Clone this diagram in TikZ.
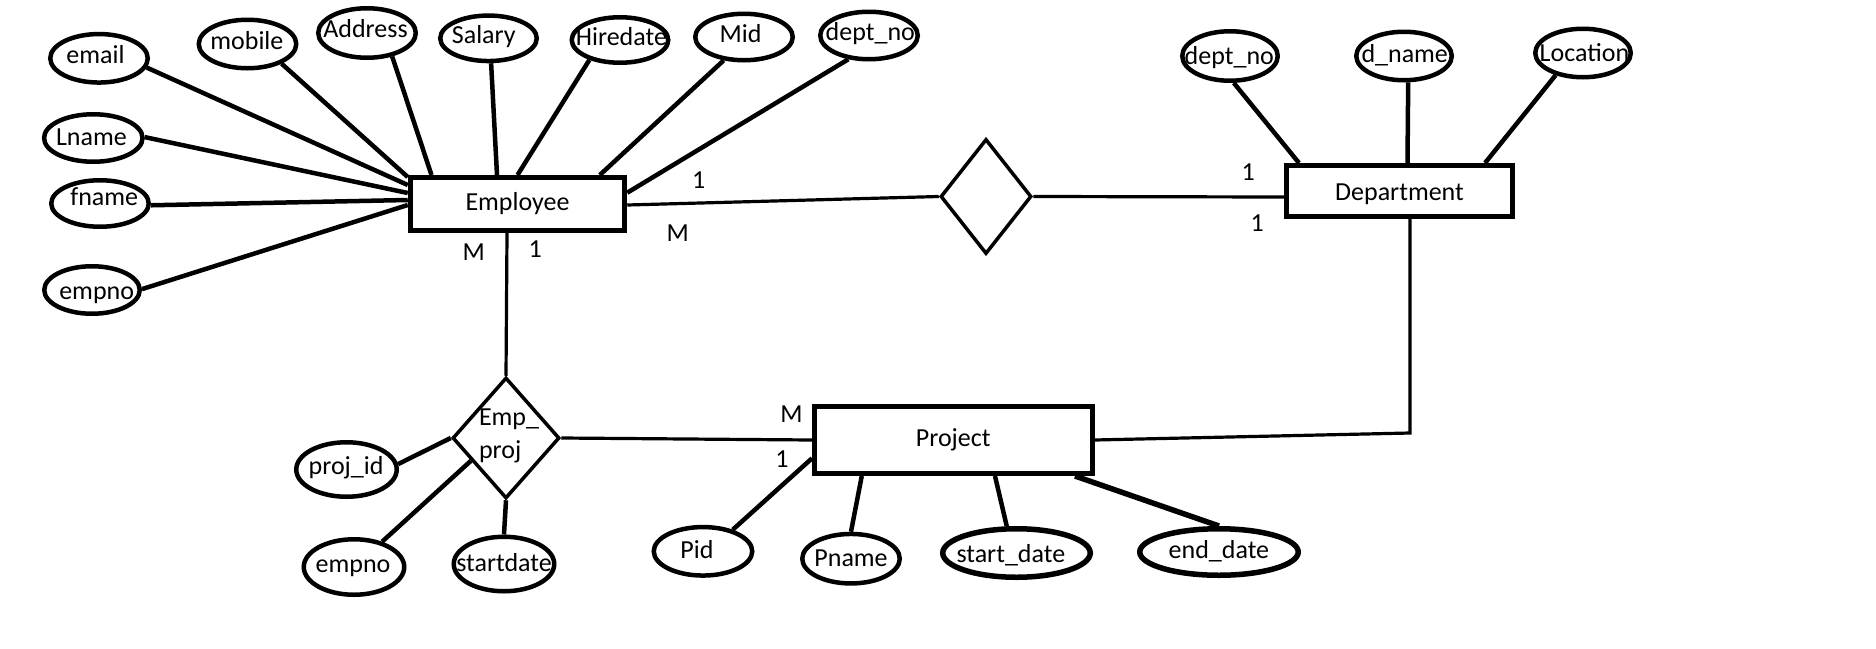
\documentclass[tikz,border=0pt]{standalone}
\usepackage{fontspec}
\setmainfont{Carlito}
\usetikzlibrary{shapes.geometric}
\tikzset{
  attrib/.style={ellipse, draw, line width=4.5pt, inner sep=0pt},
  attribthick/.style={attrib, line width=5.5pt},
  entity/.style={rectangle, draw, line width=5pt, inner sep=0pt, font=\fontsize{26}{31}\selectfont},
  relship/.style={diamond, draw, line width=3.5pt, inner sep=0pt},
  lbl/.style={inner sep=0pt, anchor=base west, font=\fontsize{26}{31}\selectfont},
  attrline/.style={line width=4.5pt},
  attrlinethick/.style={line width=5.5pt},
  link/.style={line width=3.2pt, line join=miter},
}
% [extra style]{name}{cx,cy}{w}{h}{text x,baseline y}{text}
\newcommand\Attr[7][]{%
  \node[attrib,#1,minimum width=#4pt,minimum height=#5pt] (#2) at (#3) {};
  \node[lbl] (#2-t) at (#6) {#7};}
\begin{document}
\begin{tikzpicture}[x=1pt,y=-1pt]
\useasboundingbox[fill=white] (0,0) rectangle (1876,648);

% entities
\node[entity,minimum width=214.5pt,minimum height=53pt] (emp) at (517.5,204) {Employee};
\node[entity,minimum width=226pt,minimum height=51pt,text height=23pt,text depth=5pt] (dept) at (1399.5,191) {Department};
\node[entity,minimum width=277.5pt,minimum height=67pt] (proj) at (953.25,440) {Project};

% relationships
\node[relship,minimum width=91pt,minimum height=115pt] (works) at (986,196.5) {};
\node[relship,minimum width=107pt,minimum height=121pt] (ep) at (506,438) {};
\node[lbl] (ept1) at (478.8,425.7) {Emp\_};
\node[lbl] (ept2) at (478.8,458) {proj};

% Employee attributes
\Attr{email}{99,58.3}{97.5}{48.5}{66.2,63.3}{email}
\Attr{mobile}{247.5,44}{97.5}{48.5}{210.2,49}{mobile}
\Attr{address}{367,33}{97.5}{49.5}{323.1,37.3}{Address}
\Attr{salary}{488.5,38.3}{96.5}{45.5}{451.7,43.3}{Salary}
\Attr{hiredate}{620,40}{96.5}{45.5}{575.7,45}{Hiredate}
\Attr{mid}{744,37}{97.5}{46.5}{719.5,42.7}{Mid}
\Attr{deptnoA}{869,35.5}{97.5}{47.5}{825.5,40.7}{dept\_no}
\Attr{lname}{93.3,138}{98.5}{47.5}{55.8,145}{Lname}
\Attr{fname}{100,203.5}{97.5}{46.5}{70.2,205}{fname}
\Attr{empnoA}{92,290}{95.5}{47.5}{59.1,299.3}{empno}

% Department attributes
\Attr{deptnoB}{1230,56}{95.5}{49.5}{1184.5,64}{dept\_no}
\Attr{dname}{1404,56}{95.5}{48.5}{1361.3,62.7}{d\_name}
\Attr{location}{1583,53}{95.5}{48.5}{1539.5,61.7}{Location}

% Emp_proj attributes
\Attr{projid}{346.5,469.5}{100.5}{54.5}{308.5,474}{proj\_id}
\Attr{empnoB}{354,567}{100.5}{55.5}{315.5,572.3}{empno}
\Attr{startdate}{504,564}{100.5}{54.5}{456.1,571.3}{startdate}

% Project attributes
\Attr{pid}{703,551.3}{98.5}{48.5}{680.2,558.3}{Pid}
\Attr{pname}{851,558.7}{97.5}{49.5}{814.2,566.7}{Pname}
\Attr[attribthick]{sdate}{1016.5,553}{147.5}{48.5}{956.3,562.3}{start\_date}
\Attr[attribthick]{edate}{1219,552}{158.5}{46.5}{1168.5,558.3}{end\_date}

% attribute connectors: Employee
\draw[attrline] (email.-11.5) -- ([yshift=19pt]emp.west);
\draw[attrline] (mobile.-30.8) -- ([yshift=27pt]emp.west);
\draw[attrline] (lname.1.5) -- ([yshift=11pt]emp.west);
\draw[attrline] (fname.-2) -- ([yshift=4pt]emp.west);
\draw[attrline] (empnoA.1) -- ([yshift=-1pt]emp.west);
\draw[attrline] (address.-43.7) -- ([xshift=-86pt]emp.north);
\draw[attrline] (salary.-84) -- ([xshift=-20.5pt]emp.north);
\draw[attrline] (hiredate.213.7) -- (emp.north);
\draw[attrline] (mid.229.6) -- ([xshift=82.3pt]emp.north);
\draw[attrline] (deptnoA.229.4) -- ([yshift=11.3pt]emp.east);

% attribute connectors: Department
\draw[attrline] (deptnoB.-82) -- ([xshift=-100.5pt]dept.north);
\draw[attrline] (dname.-81.6) -- ([xshift=8pt]dept.north);
\draw[attrline] (location.219) -- ([xshift=85.5pt]dept.north);

% attribute connectors: Emp_proj
\draw[attrline] (projid.6) -- (ep.west);
\draw[attrline] (empnoB.42.6) -- (ep.213);
\draw[attrline] (startdate.north) -- (ep.south);

% attribute connectors: Project
\draw[attrline] (pid.36) -- ([yshift=-18.3pt]proj.west);
\draw[attrline] (pname.north) -- ([xshift=-91.5pt]proj.south);
\draw[attrline] (sdate.110) -- ([xshift=41.75pt]proj.south);
\draw[attrlinethick] (edate.north) -- ([xshift=121.75pt]proj.south);

% relationship connectors
\draw[link] ([yshift=-1pt]emp.east) -- (works.west);
\draw[link] (works.east) -- ([yshift=-6pt]dept.west);
\draw[link] ([xshift=-10.5pt]emp.south) -- (ep.north);
\draw[link] (ep.east) -- (proj.west);
\draw[link] ([xshift=10.5pt]dept.south) -- ++(0,214) -- (proj.east);

% cardinalities
\node[lbl] (c1) at (692,188.3) {1};
\node[lbl] (c2) at (666.5,241.7) {M};
\node[lbl] (c3) at (462.5,260.7) {M};
\node[lbl] (c4) at (528.5,257.3) {1};
\node[lbl] (c5) at (1241.5,180) {1};
\node[lbl] (c6) at (1250.5,231) {1};
\node[lbl] (c7) at (780.2,422.7) {M};
\node[lbl] (c8) at (775.2,467.3) {1};
\end{tikzpicture}
\end{document}
